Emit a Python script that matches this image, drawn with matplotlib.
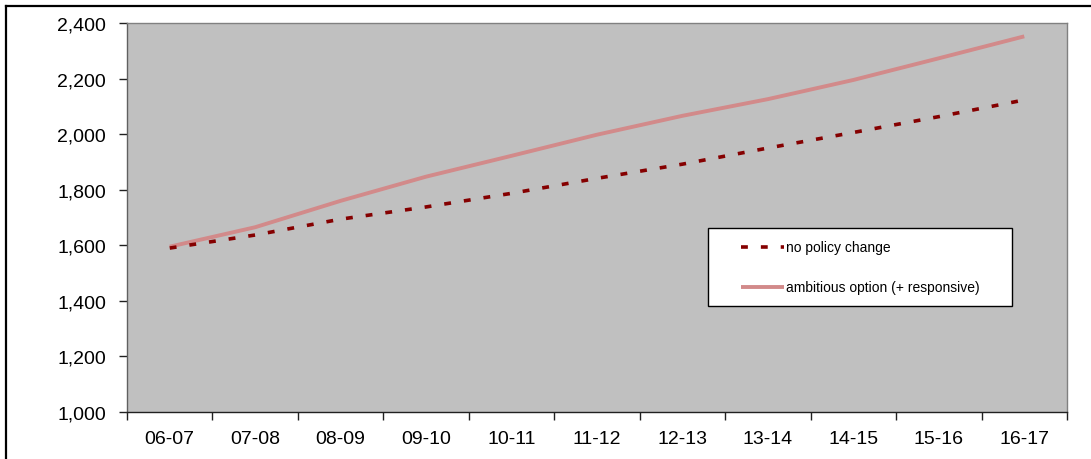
import numpy as np
import matplotlib
matplotlib.use('Agg')
import matplotlib.pyplot as plt
from matplotlib.lines import Line2D
import matplotlib.patches as patches

# --- Data ---
years = ['06-07', '07-08', '08-09', '09-10', '10-11', '11-12',
         '12-13', '13-14', '14-15', '15-16', '16-17']
no_policy_change = [1590, 1637, 1694, 1738, 1787, 1841, 1892, 1950, 2006, 2063, 2123]
ambitious_option = [1595, 1665, 1760, 1847, 1922, 1998, 2066, 2126, 2195, 2273, 2352]

series_labels = ['no policy change', 'ambitious option (+ responsive)']

# --- Styles ---
COLOR_BG = '#C0C0C0'
COLOR_DOTTED = '#850000'
COLOR_SOLID = '#D28A8A'
W, H = 1091, 460

plt.rcParams['font.family'] = ['Liberation Sans', 'DejaVu Sans']

fig = plt.figure(figsize=(W / 100, H / 100), dpi=100)
fig.patch.set_facecolor('white')


def px(x, y):
    # pixel position (from top-left) -> figure fraction
    return x / W, 1 - y / H


left, top = px(127, 24)
right, bottom = px(1067, 413)
ax = fig.add_axes([left, bottom, right - left, top - bottom])
ax.set_facecolor(COLOR_BG)

x = np.arange(len(years))
dotted_style = dict(color=COLOR_DOTTED, linewidth=2.6, dashes=(1.9, 3.6),
                    dash_capstyle='butt')
solid_style = dict(color=COLOR_SOLID, linewidth=2.8, solid_capstyle='butt')

ax.plot(x, no_policy_change, **dotted_style, zorder=3)
ax.plot(x, ambitious_option, **solid_style, zorder=2)

ax.set_xlim(-0.5, len(years) - 0.5)
ax.set_ylim(1000, 2400)
ax.set_yticks(np.arange(1000, 2401, 200))
ax.set_yticklabels([f'{v:,}' for v in range(1000, 2401, 200)])

# category labels sit between tick marks
ax.set_xticks(x)
ax.set_xticklabels(years)
ax.set_xticks(np.arange(-0.5, len(years)), minor=True)
ax.tick_params(axis='x', which='major', length=0, pad=13, labelsize=14)
ax.tick_params(axis='x', which='minor', length=6, width=1, color='#202020')
ax.tick_params(axis='y', length=6, width=1, color='#202020', pad=9, labelsize=14)

for side in ['top', 'right']:
    ax.spines[side].set_color('#808080')
ax.spines['left'].set_color('#606060')
ax.spines['bottom'].set_color('#202020')
for s in ax.spines.values():
    s.set_linewidth(1)

# --- Legend box ---
lx0, ly0 = px(708, 307)
lx1, ly1 = px(1012, 229)
fig.patches.append(patches.Rectangle((lx0, ly0), lx1 - lx0, ly1 - ly0,
                                     transform=fig.transFigure, facecolor='white',
                                     edgecolor='black', linewidth=1, zorder=5))
for (row_y, style, label) in [(248, dotted_style, series_labels[0]),
                              (288, solid_style, series_labels[1])]:
    hx0, hy = px(741, row_y)
    hx1, _ = px(784, row_y)
    fig.lines.append(Line2D([hx0, hx1], [hy, hy], transform=fig.transFigure,
                            zorder=6, **style))
    tx, _ = px(786, row_y)
    fig.text(tx, hy, label, fontsize=10, ha='left', va='center', zorder=6)

# outer frame (runs off the right and bottom edges)
bx, by = px(5.5, 6.5)
fig.lines.append(Line2D([bx, 1.01], [by, by], transform=fig.transFigure,
                        color='black', linewidth=1.6))
fig.lines.append(Line2D([bx, bx], [by, -0.01], transform=fig.transFigure,
                        color='black', linewidth=1.6))

fig.savefig('out.png', dpi=100)
